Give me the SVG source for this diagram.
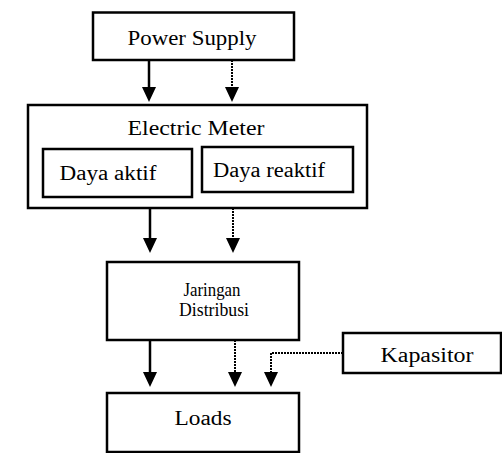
<svg xmlns="http://www.w3.org/2000/svg" width="502" height="453" viewBox="0 0 502 453">
<style>
.box{fill:none;stroke:#000;stroke-width:2.5}
.t{font-family:"Liberation Serif","Times New Roman",serif;font-size:20px;fill:#000}
.s{font-size:19px}
.solid{stroke:#000;stroke-width:2.5;fill:none}
.dot{stroke:#000;stroke-width:2;stroke-dasharray:2 1;fill:none}
</style>
<defs>
<marker id="ah" viewBox="0 0 15 14" markerWidth="15" markerHeight="14" refX="1" refY="7" orient="auto" markerUnits="userSpaceOnUse">
<path d="M0,0 L15,7 L0,14 z" fill="#000"/>
</marker>
</defs>
<rect width="502" height="453" fill="#fff"/>
<g id="connectors">
<line class="solid" x1="149" y1="60" x2="149" y2="88" marker-end="url(#ah)"/>
<line class="dot" x1="232" y1="60" x2="232" y2="88" marker-end="url(#ah)"/>
<line class="solid" x1="150" y1="208" x2="150" y2="239" marker-end="url(#ah)"/>
<line class="dot" x1="233" y1="208" x2="233" y2="239" marker-end="url(#ah)"/>
<line class="solid" x1="150" y1="340" x2="150" y2="373" marker-end="url(#ah)"/>
<line class="dot" x1="235" y1="340" x2="235" y2="373" marker-end="url(#ah)"/>
<polyline class="dot" points="343,353 271,353 271,373" marker-end="url(#ah)"/>
</g>
<g id="power-supply">
<rect class="box" x="93" y="12.5" width="201" height="47.5"/>
<text class="t" x="192" y="45" text-anchor="middle" textLength="129" lengthAdjust="spacingAndGlyphs">Power Supply</text>
</g>
<g id="electric-meter">
<rect class="box" x="28" y="105" width="339" height="103"/>
<text class="t" x="196" y="135" text-anchor="middle" textLength="137" lengthAdjust="spacingAndGlyphs">Electric Meter</text>
</g>
<g id="daya-aktif">
<rect class="box" x="43" y="149" width="149" height="48"/>
<text class="t" x="108" y="180" text-anchor="middle" textLength="97" lengthAdjust="spacingAndGlyphs">Daya aktif</text>
</g>
<g id="daya-reaktif">
<rect class="box" x="202" y="147" width="151" height="45"/>
<text class="t" x="269" y="177" text-anchor="middle" textLength="112" lengthAdjust="spacingAndGlyphs">Daya reaktif</text>
</g>
<g id="jaringan-distribusi">
<rect class="box" x="107" y="262" width="192" height="78"/>
<text class="t s" x="212" y="296" text-anchor="middle" textLength="57" lengthAdjust="spacingAndGlyphs">Jaringan</text>
<text class="t s" x="214" y="316" text-anchor="middle" textLength="70" lengthAdjust="spacingAndGlyphs">Distribusi</text>
</g>
<g id="kapasitor">
<rect class="box" x="343" y="333" width="158" height="40"/>
<text class="t" x="427" y="362" text-anchor="middle" textLength="93" lengthAdjust="spacingAndGlyphs">Kapasitor</text>
</g>
<g id="loads">
<rect class="box" x="107" y="393" width="192" height="59"/>
<text class="t" x="203" y="425" text-anchor="middle" textLength="57" lengthAdjust="spacingAndGlyphs">Loads</text>
</g>
</svg>
